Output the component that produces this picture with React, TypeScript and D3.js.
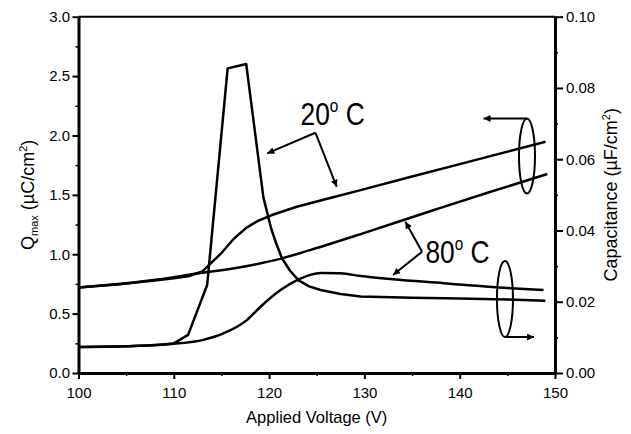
import React, { useEffect, useRef } from 'react';
import * as d3 from 'd3';

// [applied voltage (V), Qmax (uC/cm^2)] - left axis
const qmax20C: [number, number][] = [
  [100, 0.72], [102, 0.733], [104, 0.746], [106, 0.762], [108, 0.778], [110, 0.797],
  [111.5, 0.815], [113, 0.855], [115, 1.01], [116.3, 1.13], [117.6, 1.222],
  [118.8, 1.28], [120.3, 1.33], [122.9, 1.4], [126.4, 1.473], [129.5, 1.538],
  [135, 1.654], [140, 1.759], [149, 1.947],
];
const qmax80C: [number, number][] = [
  [100, 0.72], [103, 0.74], [106, 0.765], [108.6, 0.79], [112.1, 0.833],
  [117.3, 0.895], [121.35, 0.965], [124.3, 1.035], [130, 1.18], [137.3, 1.372],
  [143, 1.52], [149.2, 1.675],
];

// [applied voltage (V), capacitance (uF/cm^2)] - right axis
const cap20C: [number, number][] = [
  [100, 0.0073], [105, 0.0075], [108, 0.0078], [110, 0.0083], [111.5, 0.0107],
  [113.5, 0.0247], [115.65, 0.0855], [117.6, 0.0867], [119.4, 0.0493],
  [120.2, 0.0407], [120.7, 0.0367], [121.35, 0.0322], [122.2, 0.0287],
  [123.1, 0.026], [124.2, 0.0243], [125.4, 0.0233], [127.5, 0.0222],
  [129.6, 0.0215], [135, 0.0211], [140, 0.0209], [145, 0.0206], [149, 0.0203],
];
const cap80C: [number, number][] = [
  [100, 0.0073], [105, 0.0075], [108.6, 0.0079], [110, 0.0082], [113.1, 0.0093],
  [115.2, 0.0111], [117.7, 0.0149], [119.1, 0.0186], [121.2, 0.0233],
  [123.1, 0.0263], [125.4, 0.0281], [127.5, 0.028], [129.6, 0.0272],
  [133, 0.0263], [138.3, 0.0252], [143, 0.0242], [148.8, 0.0233],
];

const xTicks = [100, 110, 120, 130, 140, 150];
const xMinorTicks = [105, 115, 125, 135, 145];
const qTicks = [0, 0.5, 1.0, 1.5, 2.0, 2.5, 3.0];
const qMinorTicks = [0.25, 0.75, 1.25, 1.75, 2.25, 2.75];
const capTicks = [0, 0.02, 0.04, 0.06, 0.08, 0.1];
const capMinorTicks = [0.01, 0.03, 0.05, 0.07, 0.09];

const width = 631;
const height = 434;
const margin = { top: 16.7, right: 76, bottom: 61, left: 78.5 };
const font = '"Liberation Sans", Arial, Helvetica, sans-serif';

const App: React.FC = () => {
  const svgRef = useRef<SVGSVGElement>(null);

  useEffect(() => {
    if (!svgRef.current) return;
    const svg = d3.select(svgRef.current);
    svg.selectAll('*').remove();

    const x = d3.scaleLinear().domain([100, 150]).range([margin.left, width - margin.right]);
    const yQ = d3.scaleLinear().domain([0, 3]).range([height - margin.bottom, margin.top]);
    const yC = d3.scaleLinear().domain([0, 0.1]).range([height - margin.bottom, margin.top]);

    svg.append('defs').append('marker')
      .attr('id', 'arrowhead')
      .attr('viewBox', '0 0 10 10')
      .attr('refX', 10)
      .attr('refY', 5)
      .attr('markerWidth', 10)
      .attr('markerHeight', 7)
      .attr('markerUnits', 'userSpaceOnUse')
      .attr('orient', 'auto')
      .append('path')
      .attr('d', 'M0,0 L10,5 L0,10 z')
      .attr('fill', '#000');

    const styleAxis = (g: d3.Selection<SVGGElement, unknown, null, undefined>) => {
      g.selectAll('.domain').attr('stroke', '#000').attr('stroke-width', 3);
      g.selectAll('.tick line').attr('stroke', '#000').attr('stroke-width', 2);
      g.selectAll('.tick text')
        .attr('fill', '#000')
        .style('font-family', font)
        .style('font-size', '15px');
    };
    const minor = (g: d3.Selection<SVGGElement, unknown, null, undefined>) => {
      g.select('.domain').remove();
      g.selectAll('.tick line').attr('stroke', '#000').attr('stroke-width', 1.5);
    };

    // minor ticks first, axes on top
    svg.append('g')
      .attr('transform', `translate(0,${yQ(0)})`)
      .call(d3.axisBottom(x).tickValues(xMinorTicks).tickSize(3).tickSizeOuter(0).tickFormat(() => ''))
      .call(minor);
    svg.append('g')
      .attr('transform', `translate(${x(100)},0)`)
      .call(d3.axisLeft(yQ).tickValues(qMinorTicks).tickSize(3).tickSizeOuter(0).tickFormat(() => ''))
      .call(minor);
    svg.append('g')
      .attr('transform', `translate(${x(150)},0)`)
      .call(d3.axisRight(yC).tickValues(capMinorTicks).tickSize(3).tickSizeOuter(0).tickFormat(() => ''))
      .call(minor);

    svg.append('g')
      .attr('transform', `translate(0,${yQ(0)})`)
      .call(d3.axisBottom(x).tickValues(xTicks).tickSize(6).tickSizeOuter(0).tickPadding(8).tickFormat(d3.format('d')))
      .call(styleAxis);
    svg.append('g')
      .attr('transform', `translate(${x(100)},0)`)
      .call(d3.axisLeft(yQ).tickValues(qTicks).tickSize(6).tickSizeOuter(0).tickPadding(2.5).tickFormat(d3.format('.1f')))
      .call(styleAxis);
    svg.append('g')
      .attr('transform', `translate(${x(150)},0)`)
      .call(d3.axisRight(yC).tickValues(capTicks).tickSize(8).tickSizeOuter(0).tickPadding(3).tickFormat(d3.format('.2f')))
      .call(styleAxis);

    // top frame line
    svg.append('line')
      .attr('x1', x(100)).attr('x2', x(150))
      .attr('y1', yQ(3)).attr('y2', yQ(3))
      .attr('stroke', '#000').attr('stroke-width', 2);

    // curves
    const qSharp = d3.line<[number, number]>().x(d => x(d[0])).y(d => yQ(d[1]));
    const qSmooth = d3.line<[number, number]>().x(d => x(d[0])).y(d => yQ(d[1])).curve(d3.curveMonotoneX);
    const cSmooth = d3.line<[number, number]>().x(d => x(d[0])).y(d => yC(d[1])).curve(d3.curveMonotoneX);
    const cPeak = d3.line<[number, number]>().x(d => x(d[0])).y(d => yC(d[1]));

    const curves: (string | null)[] = [qSharp(qmax20C), qSmooth(qmax80C), cPeak(cap20C), cSmooth(cap80C)];
    curves.forEach(d => {
      svg.append('path')
        .attr('d', d)
        .attr('fill', 'none')
        .attr('stroke', '#000')
        .attr('stroke-width', 2.5)
        .attr('stroke-linejoin', 'round');
    });

    // annotations (data coordinates)
    const arrow = (from: [number, number], to: [number, number]) => {
      svg.append('line')
        .attr('x1', x(from[0])).attr('y1', yQ(from[1]))
        .attr('x2', x(to[0])).attr('y2', yQ(to[1]))
        .attr('stroke', '#000').attr('stroke-width', 2)
        .attr('marker-end', 'url(#arrowhead)');
    };
    const label = (at: [number, number], num: string) => {
      const g = svg.append('g')
        .attr('transform', `translate(${x(at[0])},${yQ(at[1])}) scale(0.85,1)`);
      const t = g.append('text')
        .attr('x', 0).attr('y', 0)
        .style('font-family', font)
        .style('font-size', '31px')
        .attr('fill', '#000');
      t.append('tspan').text(num);
      t.append('tspan').attr('dy', -12.9).style('font-size', '18px').text('o');
      t.append('tspan').attr('dy', 12.9).text(' C');
    };
    const ellipse = (c: [number, number], dv: number, dq: number) => {
      svg.append('ellipse')
        .attr('cx', x(c[0])).attr('cy', yQ(c[1]))
        .attr('rx', x(c[0] + dv) - x(c[0]))
        .attr('ry', yQ(c[1] - dq) - yQ(c[1]))
        .attr('fill', 'none')
        .attr('stroke', '#000').attr('stroke-width', 2);
    };

    label([123.3, 2.087], '20');
    arrow([124.86, 2.023], [119.8, 1.849]);
    arrow([124.86, 2.023], [127.1, 1.568]);

    label([136.4, 0.923], '80');
    arrow([136.05, 1.021], [134.3, 1.274]);
    arrow([136.05, 1.021], [133.0, 0.825]);

    ellipse([147.06, 1.827], 0.84, 0.316);
    arrow([147.06, 2.143], [142.5, 2.143]);
    ellipse([144.75, 0.623], 0.84, 0.32);
    arrow([144.8, 0.303], [147.8, 0.303]);

    // axis titles
    const qTitle = svg.append('text')
      .attr('transform', `translate(34,${(yQ(0) + yQ(3)) / 2}) rotate(-90)`)
      .attr('text-anchor', 'middle')
      .style('font-family', font)
      .style('font-size', '18px')
      .attr('fill', '#000');
    qTitle.append('tspan').text('Q');
    qTitle.append('tspan').attr('dy', 4).style('font-size', '11px').text('max');
    qTitle.append('tspan').attr('dy', -4).text(' (\u00b5C/cm');
    qTitle.append('tspan').attr('dy', -7).style('font-size', '11px').text('2');
    qTitle.append('tspan').attr('dy', 7).text(')');

    const cTitle = svg.append('text')
      .attr('transform', `translate(617,${(yC(0) + yC(0.1)) / 2}) rotate(-90)`)
      .attr('text-anchor', 'middle')
      .style('font-family', font)
      .style('font-size', '18px')
      .attr('fill', '#000');
    cTitle.append('tspan').text('Capacitance (\u00b5F/cm');
    cTitle.append('tspan').attr('dy', -7).style('font-size', '11px').text('2');
    cTitle.append('tspan').attr('dy', 7).text(')');

    svg.append('text')
      .attr('x', (x(100) + x(150)) / 2)
      .attr('y', 422.5)
      .attr('text-anchor', 'middle')
      .style('font-family', font)
      .style('font-size', '16.5px')
      .attr('fill', '#000')
      .text('Applied Voltage (V)');
  }, []);

  return (
    <svg
      ref={svgRef}
      width={width}
      height={height}
      style={{ position: 'absolute', left: 0, top: 0, background: '#fff' }}
    />
  );
};

export default App;
